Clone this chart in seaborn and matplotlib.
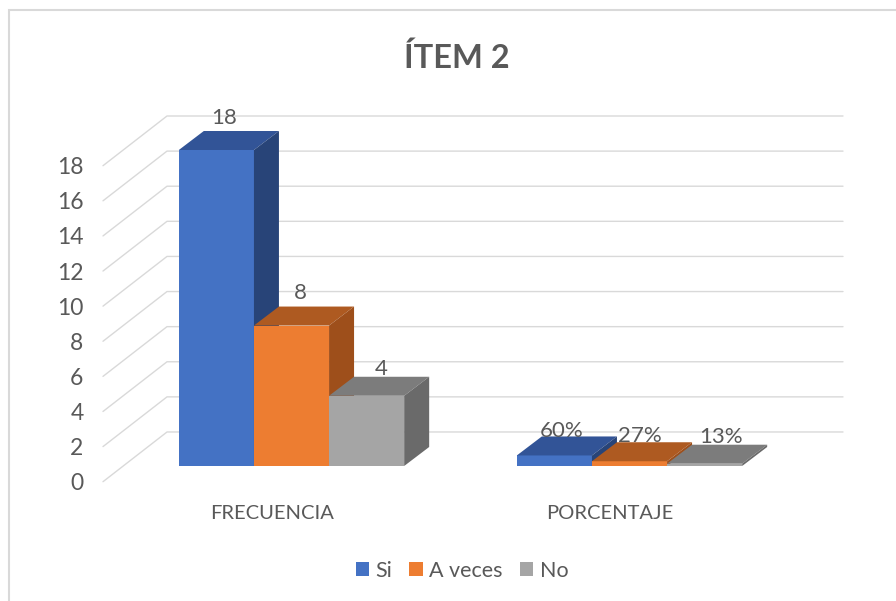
#import libraries
import pandas as pd
import matplotlib
matplotlib.use('Agg')
import matplotlib.pyplot as plt
from matplotlib.patches import Polygon, Rectangle
import seaborn as sns

#chart data
groups = ['FRECUENCIA', 'PORCENTAJE']
answers = ['Si', 'A veces', 'No']
frecuencia = [18, 8, 4]
porcentaje = [0.60, 0.27, 0.13]
bar_labels = ['18', '8', '4', '60%', '27%', '13%']
y_ticks = [0, 2, 4, 6, 8, 10, 12, 14, 16, 18]

#colors for front, top and side of each box
front_colors = ['#4472C4', '#ED7D31', '#A5A5A5']
top_colors = ['#325497', '#AE5A21', '#7C7C7C']
side_colors = ['#284478', '#9E4F1B', '#6A6A6A']
grid_color = '#D9D9D9'
text_color = '#595959'

W, H = 896, 601

#label shift from the bar top, in pixels
label_shift = [(8, 32), (9, 33), (15, 27), (7, 24), (10, 25), (16, 27)]

sns.set_theme(style='white')
plt.rcParams['font.family'] = ['Lato', 'DejaVu Sans']

df = pd.DataFrame({
    'grupo': [g for g in groups for _ in answers],
    'respuesta': answers * 2,
    'valor': frecuencia + porcentaje,
})

fig = plt.figure(figsize=(W / 100, H / 100), dpi=100)

#axes: 338 px per group, 17.55 px per unit
px_x = 338
px_y = 17.55
ax_left, ax_right = 122.5, 798.5
ax_top, ax_bottom = 150, 466 + px_y
ax = fig.add_axes([ax_left / W, 1 - ax_bottom / H, (ax_right - ax_left) / W, (ax_bottom - ax_top) / H])

sns.barplot(data=df, x='grupo', y='valor', hue='respuesta', hue_order=answers,
            palette=front_colors, saturation=1, width=2 / 3, gap=0,
            edgecolor='none', linewidth=0, ax=ax)

ax.set_xlim(-0.5, 1.5)
ax.set_ylim(-1, 18)

#depth of the boxes and of the floor in data units
box_dx, box_dy = 25 / px_x, 19 / px_y
wall_dx, wall_dy = 44.5 / px_x, 34 / px_y
front_dx, front_dy = 19.5 / px_x, 15.7 / px_y

#wall lines with the diagonal on the floor side
for v in y_ticks:
    ax.plot([-0.5 - front_dx, -0.5 + wall_dx, 1.5 + wall_dx],
            [v - front_dy, v + wall_dy, v + wall_dy],
            color=grid_color, lw=1.0, zorder=1, clip_on=False)

#boxes: top and side faces follow the seaborn bars
for i, bars in enumerate(ax.containers):
    for bar in bars:
        x0, x1 = bar.get_x(), bar.get_x() + bar.get_width()
        y1 = bar.get_height()
        bar.set_zorder(2 + i)
        ax.add_patch(Polygon([(x0, y1), (x1, y1), (x1 + box_dx, y1 + box_dy), (x0 + box_dx, y1 + box_dy)],
                             closed=True, fc=top_colors[i], ec='none', zorder=2 + i, clip_on=False))
        ax.add_patch(Polygon([(x1, 0), (x1 + box_dx, box_dy), (x1 + box_dx, y1 + box_dy), (x1, y1)],
                             closed=True, fc=side_colors[i], ec='none', zorder=2 + i, clip_on=False))

#data labels, seaborn keeps bars per hue so reorder by group
for g in range(len(groups)):
    for i, bars in enumerate(ax.containers):
        bar = bars[g]
        sx, sy = label_shift[g * len(answers) + i]
        ax.annotate(bar_labels[g * len(answers) + i],
                    (bar.get_x() + bar.get_width() / 2, bar.get_height()),
                    xytext=(sx * 0.72, sy * 0.72), textcoords='offset points',
                    ha='center', va='center', fontsize=16, color=text_color,
                    zorder=20, annotation_clip=False)

#ticks sit on the front edge of the floor
ax.set_xticks([g - front_dx for g in range(len(groups))], groups)
ax.set_yticks([v - front_dy for v in y_ticks], y_ticks)
ax.tick_params(axis='x', length=0, pad=15.5, labelsize=14.5, labelcolor=text_color)
ax.tick_params(axis='y', length=0, pad=28, labelsize=16.5, labelcolor=text_color)
ax.set_xlabel('')
ax.set_ylabel('')
sns.despine(ax=ax, left=True, bottom=True)

sns.move_legend(ax, 'center', bbox_to_anchor=(462 / W, 1 - 571 / H), bbox_transform=fig.transFigure,
                ncol=3, frameon=False, title=None, fontsize=15.5, labelcolor=text_color,
                handlelength=0.62, handleheight=0.62, handletextpad=0.3, columnspacing=0.8)

#title and chart frame
fig.text(457 / W, 1 - 58 / H, 'ÍTEM 2', ha='center', va='center', fontsize=23.5,
         fontweight='bold', color=text_color)
fig.add_artist(Rectangle((9 / W, -0.1), 1.2, 1.1 - 10 / H, transform=fig.transFigure,
                         fc='none', ec=grid_color, lw=1.5))

plt.savefig('out.png', dpi=100)
